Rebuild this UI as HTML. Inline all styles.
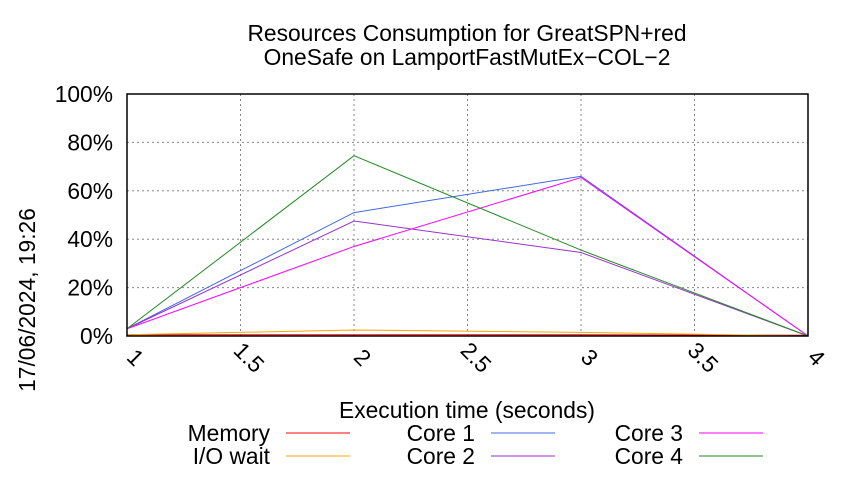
<!DOCTYPE html>
<html><head><meta charset="utf-8"><style>
body{margin:0;background:#fff;font-family:"Liberation Sans",sans-serif;}
svg text{font-family:"Liberation Sans",sans-serif;fill:#000;}
</style></head><body>
<svg id="chart" width="850" height="475">
<text x="467" y="41" font-size="22.8" text-anchor="middle">Resources Consumption for GreatSPN+red</text>
<text x="467" y="65" font-size="22.8" text-anchor="middle">OneSafe on LamportFastMutEx−COL−2</text>
<text x="467" y="418" font-size="22.8" text-anchor="middle">Execution time (seconds)</text>
<text transform="translate(35,300) rotate(-90)" font-size="22.8" text-anchor="middle">17/06/2024, 19:26</text>
<g id="grid"></g><g id="series"></g><g id="legend"></g>
<rect x="127" y="94" width="681" height="242" fill="none" stroke="#000" stroke-width="1.5"/>
</svg>
<script>
const xTicks=[1,1.5,2,2.5,3,3.5,4];
const yTicks=[0,20,40,60,80,100];
const times=[1,2,3,4];
const memory=[0.5,0.5,0.5,0.3];
const ioWait=[0.5,2.5,1.5,0];
const core1=[3,51,66,0];
const core2=[3,47.5,34.5,0];
const core3=[3,37,65.5,0];
const core4=[3,74.5,35.5,0];
const NS='http://www.w3.org/2000/svg';
const X=v=>127+(v-1)/3*681, Y=v=>336-v/100*242;
function mk(t,a,p){const e=document.createElementNS(NS,t);for(const k in a)e.setAttribute(k,a[k]);p.appendChild(e);return e;}
const g=document.getElementById('grid');
xTicks.forEach(t=>{
 const l=mk('line',{x1:X(t),x2:X(t),y1:94,y2:336,stroke:'#888','stroke-dasharray':'2,3'},g);
 
 
 const tx=mk('text',{x:0,y:0,'font-size':22.8,'text-anchor':'middle',transform:`translate(${X(t)+3},${363}) rotate(45)`},g);
 tx.textContent=t;
 
 
});
yTicks.forEach(t=>{
 const l=mk('line',{x1:127,x2:808,y1:Y(t),y2:Y(t),stroke:'#888','stroke-dasharray':'2,3'},g);
 
 
 const tx=mk('text',{x:113,y:Y(t)+8,'font-size':22.8,'text-anchor':'end'},g);
 tx.textContent=t+'%';
 
 
});
const series=[['Memory',memory,'#ff0000'],['I/O wait',ioWait,'#ffa500'],['Core 1',core1,'#4169e1'],['Core 2',core2,'#9932cc'],['Core 3',core3,'#ff00ff'],['Core 4',core4,'#228b22']];
const s=document.getElementById('series');
series.forEach(([n,d,c])=>{
 const p=mk('polyline',{points:d.map((v,i)=>X(times[i])+','+Y(v)).join(' '),fill:'none',stroke:c,'stroke-width':1},s);
 
 
});
const lg=document.getElementById('legend');
const pos=[[270,433],[270,456],[475,433],[475,456],[683,433],[683,456]];
series.forEach(([n,d,c],i)=>{
 const [x,y]=pos[i];
 const t=mk('text',{x:x,y:y+8,'font-size':22.8,'text-anchor':'end'},lg);
 t.textContent=n;
 
 
 const l=mk('line',{x1:x+16,x2:x+80,y1:y,y2:y,stroke:c},lg);
 
 
});
</script>
</body></html>
